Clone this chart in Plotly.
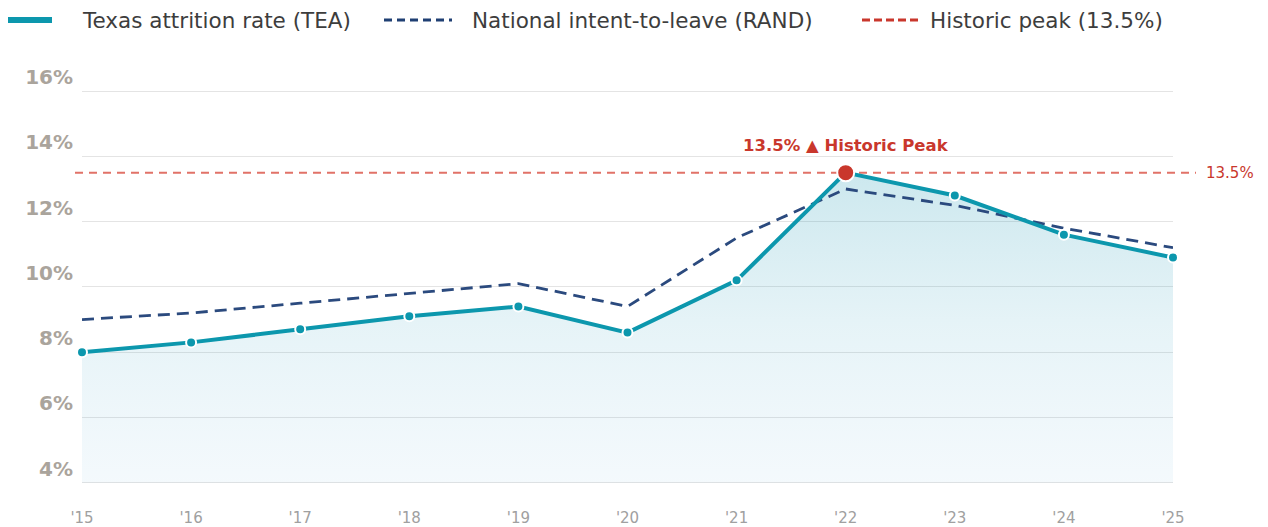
import plotly.graph_objects as go

years = ["'15", "'16", "'17", "'18", "'19", "'20", "'21", "'22", "'23", "'24", "'25"]
texas = [8.0, 8.3, 8.7, 9.1, 9.4, 8.6, 10.2, 13.5, 12.8, 11.6, 10.9]
national = [9.0, 9.2, 9.5, 9.8, 10.1, 9.4, 11.5, 13.0, 12.5, 11.8, 11.2]
peak_value = 13.5
peak_index = 7
y_ticks = [4, 6, 8, 10, 12, 14, 16]
legend_labels = ["Texas attrition rate (TEA)", "National intent-to-leave (RAND)", "Historic peak (13.5%)"]

FONT = "DejaVu Sans"
TEAL = "#0c97ad"
NAVY = "#1f3f73"
RED = "#c9372c"

W, H = 1268, 527
ML, MR, MT, MB = 82, 95, 78, 41
PW, PH = W - ML - MR, H - MT - MB


def px(xpix):
    return (xpix - ML) / PW


def py(ypix):
    return (H - MB - ypix) / PH


x = list(range(len(years)))
base = [y_ticks[0]] * len(x)

fig = go.Figure()

# baseline for the area fill (at the lowest gridline)
fig.add_trace(go.Scatter(x=x, y=base, mode="lines", line=dict(width=0),
                         showlegend=False, hoverinfo="skip"))
# filled area under Texas line
fig.add_trace(go.Scatter(
    x=x, y=texas, mode="lines", line=dict(width=0),
    fill="tonexty",
    fillgradient=dict(type="vertical", start=4, stop=peak_value,
                      colorscale=[[0, "rgba(70,160,210,0.06)"], [0.5, "rgba(30,150,185,0.11)"],
                                  [1, "rgba(0,140,170,0.2)"]]),
    showlegend=False, hoverinfo="skip"))

fig.add_trace(go.Scatter(
    x=x, y=national, mode="lines", name=legend_labels[1],
    line=dict(color="#2b4a7e", width=2.8, dash="12px,7px"),
    cliponaxis=False, showlegend=False))

fig.add_trace(go.Scatter(
    x=x, y=texas, mode="lines+markers", name=legend_labels[0],
    line=dict(color=TEAL, width=4),
    marker=dict(size=10, color=TEAL, line=dict(color="white", width=2)),
    cliponaxis=False, showlegend=False))

# peak marker
fig.add_trace(go.Scatter(
    x=[x[peak_index]], y=[texas[peak_index]], mode="markers",
    marker=dict(size=17, color=RED, line=dict(color="white", width=2)),
    showlegend=False, cliponaxis=False))

# historic peak reference line
fig.add_shape(type="line", xref="paper", yref="y", x0=px(75), x1=px(1196),
              y0=peak_value, y1=peak_value,
              line=dict(color="#dc5a4e", width=2, dash="8px,6px"), opacity=0.85, layer="below")

fig.add_annotation(xref="paper", yref="y", x=px(1204), y=peak_value, text="13.5%",
                   showarrow=False, xanchor="left", yanchor="middle",
                   font=dict(family=FONT, size=15, color=RED))
fig.add_annotation(x=x[peak_index], y=peak_value, text="<b>13.5% ▲ Historic Peak</b>",
                   showarrow=False, yshift=27, xanchor="center", yanchor="middle",
                   font=dict(family=FONT, size=16.5, color=RED))

# legend (drawn manually to match spacing)
LY = 20
legend_items = [
    (8, 52, TEAL, 6, "solid", 80, legend_labels[0]),
    (384, 452, NAVY, 3, "8px,5px", 470, legend_labels[1]),
    (862, 918, RED, 3, "8px,4px", 928, legend_labels[2]),
]
for x0, x1, col, wd, dash, tx, label in legend_items:
    fig.add_shape(type="line", xref="paper", yref="paper", x0=px(x0), x1=px(x1),
                  y0=py(LY), y1=py(LY), line=dict(color=col, width=wd, dash=dash))
    fig.add_annotation(xref="paper", yref="paper", x=px(tx), y=py(LY), text=label,
                       showarrow=False, xanchor="left", yanchor="middle",
                       font=dict(family=FONT, size=21.5, color="#3d3d3d"))

fig.update_layout(
    width=W, height=H,
    margin=dict(l=ML, r=MR, t=MT, b=MB, autoexpand=False),
    paper_bgcolor="white", plot_bgcolor="white",
    font=dict(family=FONT),
    showlegend=False,
    xaxis=dict(range=[0, 10], tickmode="array", tickvals=x, ticktext=years,
               showgrid=False, zeroline=False, showline=False, automargin=False,
               ticks="outside", ticklen=0, ticklabelstandoff=18,
               tickfont=dict(family=FONT, size=15, color="#a0a0a0")),
    yaxis=dict(range=[3.9, 16.4], tickmode="array", tickvals=y_ticks,
               ticktext=[f"{v}%" for v in y_ticks], automargin=False,
               showgrid=True, gridcolor="#e4e4e4", gridwidth=1,
               zeroline=False, showline=False,
               ticklabelposition="outside top", ticks="", ticklabelstandoff=8,
               tickfont=dict(family=FONT, size=20, color="#aaa49c", weight="bold")),
)

fig.write_html("out.html")
